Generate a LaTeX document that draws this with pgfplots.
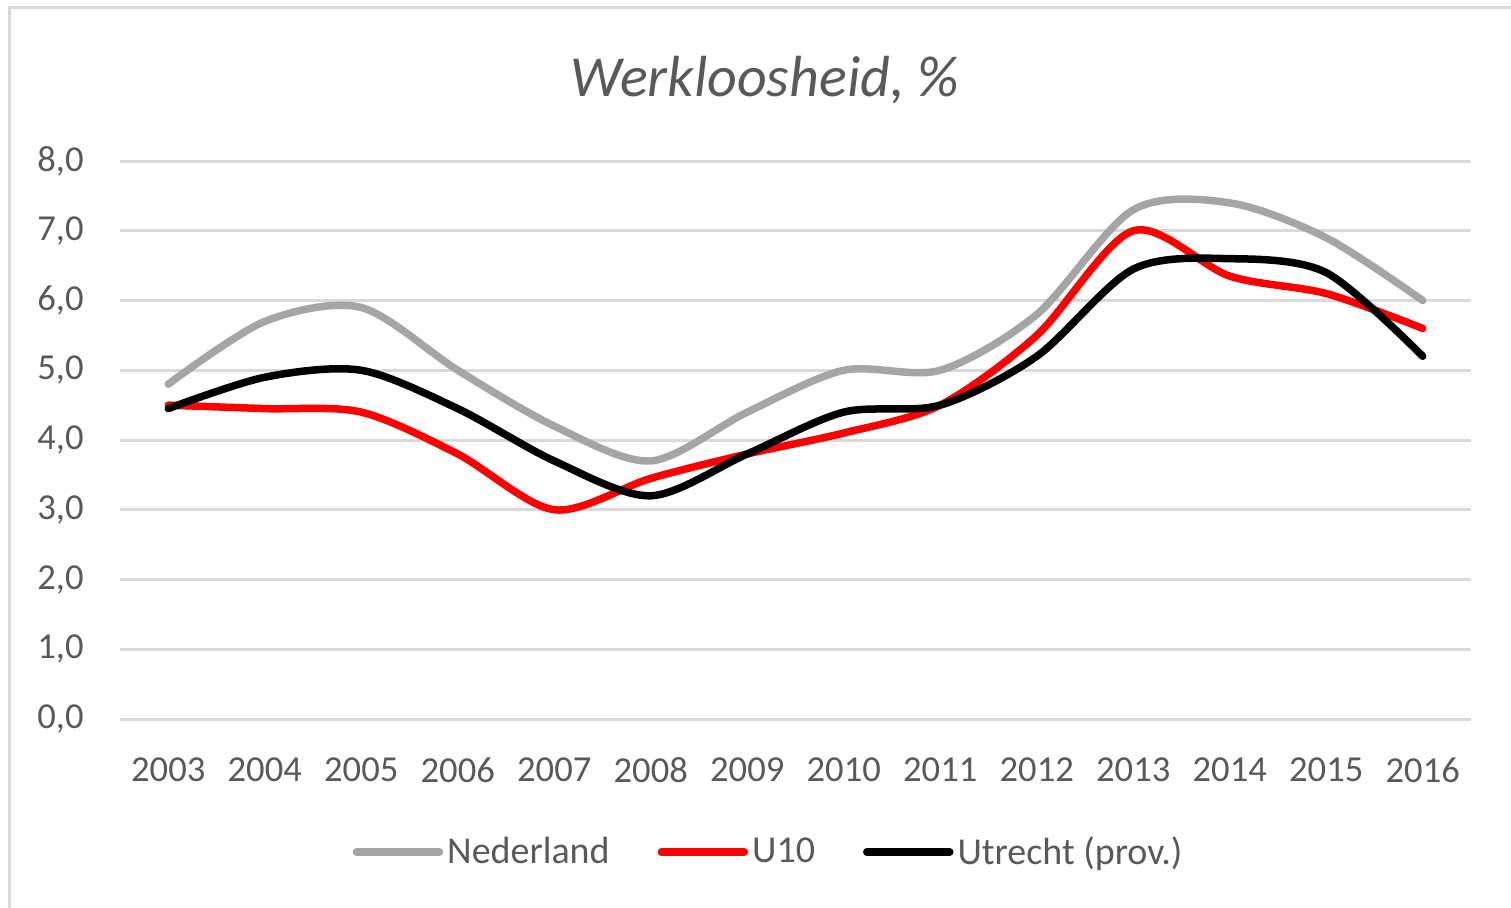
\documentclass[border=0pt]{standalone}
\usepackage{pgfplots}
\pgfplotsset{compat=1.18}
\usepackage{fontspec}
\setmainfont{Carlito}
\definecolor{txt}{HTML}{595959}
\definecolor{gridc}{HTML}{D9D9D9}
\definecolor{ned}{HTML}{A5A5A5}
\definecolor{uten}{HTML}{FF0000}
\begin{document}
\begin{tikzpicture}
\path[use as bounding box] (0,0) rectangle (755.5pt,453.5pt);
\draw[gridc, line width=1.5pt] (4.75pt,-5pt) -- (4.75pt,449.75pt) -- (765pt,449.75pt);
\node[font=\fontsize{29}{34}\selectfont\itshape, text=txt, anchor=base] at (382.5pt,405pt) {Werkloosheid, \%};
\begin{axis}[
  at={(60pt,94pt)}, anchor=south west,
  width=675.5pt, height=279pt, scale only axis,
  xmin=2002.5, xmax=2016.5, ymin=0, ymax=8,
  xtick={2003,2004,2005,2006,2007,2008,2009,2010,2011,2012,2013,2014,2015,2016},
  xticklabels={2003,2004,2005,2006,2007,2008,2009,2010,2011,2012,2013,2014,2015,2016},
  ytick={0,1,2,3,4,5,6,7,8},
  axis line style={draw=none}, major tick length=0pt,
  ymajorgrids, grid style={gridc, line width=1.5pt},
  tick label style={font=\fontsize{18.3}{21}\selectfont, text=txt},
  yticklabel style={/pgf/number format/fixed, /pgf/number format/fixed zerofill, /pgf/number format/precision=1, /pgf/number format/use comma, /pgf/number format/assume math mode=true, anchor=east, inner sep=0pt, xshift=-18pt},
  xticklabel style={anchor=north, inner sep=0pt, yshift=-19pt},
  legend style={at={(0.4808,-0.2384)}, anchor=center, draw=none, fill=none, font=\fontsize{19}{22}\selectfont, text=txt, inner sep=0pt, /tikz/every even column/.append style={column sep=22pt}},
  legend columns=3,
  legend image code/.code={\draw[#1, line cap=round] (0pt,0pt) -- (41.5pt,0pt);},
  every axis plot/.append style={line width=3.75pt, smooth, line cap=round, line join=round, mark=none},
]
\addplot[ned] coordinates {(2003,4.8)(2004,5.7)(2005,5.9)(2006,5.0)(2007,4.2)(2008,3.7)(2009,4.4)(2010,5.0)(2011,5.0)(2012,5.8)(2013,7.3)(2014,7.4)(2015,6.9)(2016,6.0)};
\addlegendentry{Nederland}
\addplot[uten] coordinates {(2003,4.5)(2004,4.45)(2005,4.4)(2006,3.8)(2007,3.0)(2008,3.45)(2009,3.8)(2010,4.1)(2011,4.5)(2012,5.5)(2013,7.0)(2014,6.35)(2015,6.1)(2016,5.6)};
\addlegendentry{U10}
\addplot[black] coordinates {(2003,4.45)(2004,4.9)(2005,5.0)(2006,4.45)(2007,3.7)(2008,3.2)(2009,3.8)(2010,4.4)(2011,4.5)(2012,5.2)(2013,6.45)(2014,6.6)(2015,6.4)(2016,5.2)};
\addlegendentry{Utrecht (prov.)}
\end{axis}
\end{tikzpicture}
\end{document}
